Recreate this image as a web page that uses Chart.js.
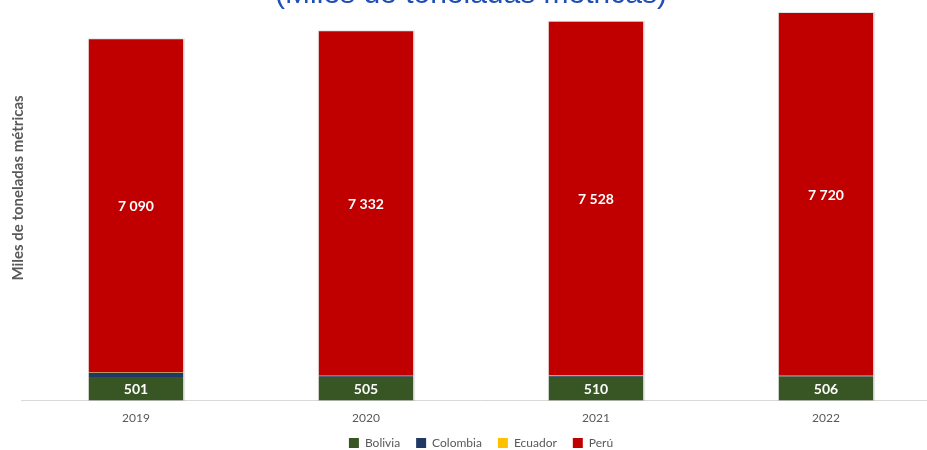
<!DOCTYPE html>
<html><head><meta charset="utf-8">
<script src="https://cdn.jsdelivr.net/npm/chart.js@4.4.0/dist/chart.umd.min.js"></script>
<style>
html,body{margin:0;padding:0;background:#fff;overflow:hidden;width:927px;height:450px;}
#wrap{position:absolute;left:0;top:-40px;width:950px;height:499px;}
</style></head><body>
<div id="wrap"><canvas id="c"></canvas></div>
<script>
const categories = ["2019", "2020", "2021", "2022"];
const bolivia = [501, 505, 510, 506];
const colombia = [90, 15, 15, 15];
const ecuador = [10, 10, 10, 10];
const peru = [7090, 7332, 7528, 7720];
const titleText = "(Miles de toneladas métricas)";
const yTitle = "Miles de toneladas métricas";

function fmt(v){ return String(v).replace(/\B(?=(\d{3})+(?!\d))/g, " "); }

const labelPlugin = {
  id: 'labels',
  afterDatasetsDraw(chart){
    const ctx = chart.ctx;
    ctx.save();
    ctx.fillStyle = '#ffffff';
    ctx.font = 'bold 14px Lato, "Open Sans", sans-serif';
    ctx.textAlign = 'center';
    ctx.textBaseline = 'middle';
    [0,3].forEach(di => {
      const meta = chart.getDatasetMeta(di);
      meta.data.forEach((bar, i) => {
        const p = bar.getProps(['x','y','base'], true);
        ctx.fillText(fmt(chart.data.datasets[di].data[i]), p.x, (p.y + p.base)/2 + 1);
      });
    });
    ctx.restore();
  },
  afterDraw(chart){
    const ctx = chart.ctx;
    ctx.save();
    ctx.fillStyle = '#1f4fb4';
    ctx.font = '30px "Liberation Sans", Arial, sans-serif';
    ctx.textAlign = 'center';
    ctx.textBaseline = 'alphabetic';
    ctx.fillText(titleText, 471, 43);
    ctx.translate(18, 228);
    ctx.rotate(-Math.PI/2);
    ctx.fillStyle = '#595959';
    ctx.font = 'bold 15px Lato, "Open Sans", sans-serif';
    ctx.textBaseline = 'middle';
    ctx.fillText(yTitle, 0, 0);
    ctx.restore();
  }
};

const shadowPlugin = {
  id: 'shadow',
  beforeDatasetsDraw(chart){
    const ctx = chart.ctx;
    ctx.save();
    ctx.fillStyle = 'rgba(0,0,0,0.10)';
    const metaTop = chart.getDatasetMeta(3);
    const metaBot = chart.getDatasetMeta(0);
    metaTop.data.forEach((bar, i) => {
      const p = bar.getProps(['x','y','width'], true);
      const b = metaBot.data[i].getProps(['base'], true);
      ctx.fillRect(p.x - p.width/2 - 1, p.y - 1, p.width + 3, b.base - p.y + 1);
    });
    ctx.restore();
  }
};

new Chart(document.getElementById('c'), {
  type: 'bar',
  data: {
    labels: categories,
    datasets: [
      {label: 'Bolivia', data: bolivia, backgroundColor: '#375623'},
      {label: 'Colombia', data: colombia, backgroundColor: '#1f3864'},
      {label: 'Ecuador', data: ecuador, backgroundColor: '#ffc000'},
      {label: 'Perú', data: peru, backgroundColor: '#c00000'}
    ]
  },
  options: {
    responsive: true,
    maintainAspectRatio: false,
    animation: false,
    layout: {padding: {left: 21, right: 9, top: 15, bottom: 0}},
    datasets: {bar: {categoryPercentage: 1, barPercentage: 0.41}},
    scales: {
      x: {
        stacked: true,
        grid: {display: false},
        border: {display: true, color: '#d9d9d9', width: 1},
        ticks: {color: '#595959', font: {size: 12, family: 'Lato, "Open Sans", sans-serif'}, padding: 2}
      },
      y: {stacked: true, display: false, min: 0, max: 9060}
    },
    plugins: {
      legend: {
        position: 'bottom',
        labels: {
          boxWidth: 10, boxHeight: 10, color: '#595959', padding: 10,
          font: {size: 12, family: 'Lato, "Open Sans", sans-serif'},
          generateLabels(chart){
            const items = Chart.defaults.plugins.legend.labels.generateLabels(chart);
            items.forEach((it, i) => { if (i < items.length - 1) it.text = it.text + '\u2002'; });
            return items;
          }
        }
      },
      tooltip: {enabled: false},
      title: {display: false}
    }
  },
  plugins: [shadowPlugin, labelPlugin]
});
</script>
</body></html>
